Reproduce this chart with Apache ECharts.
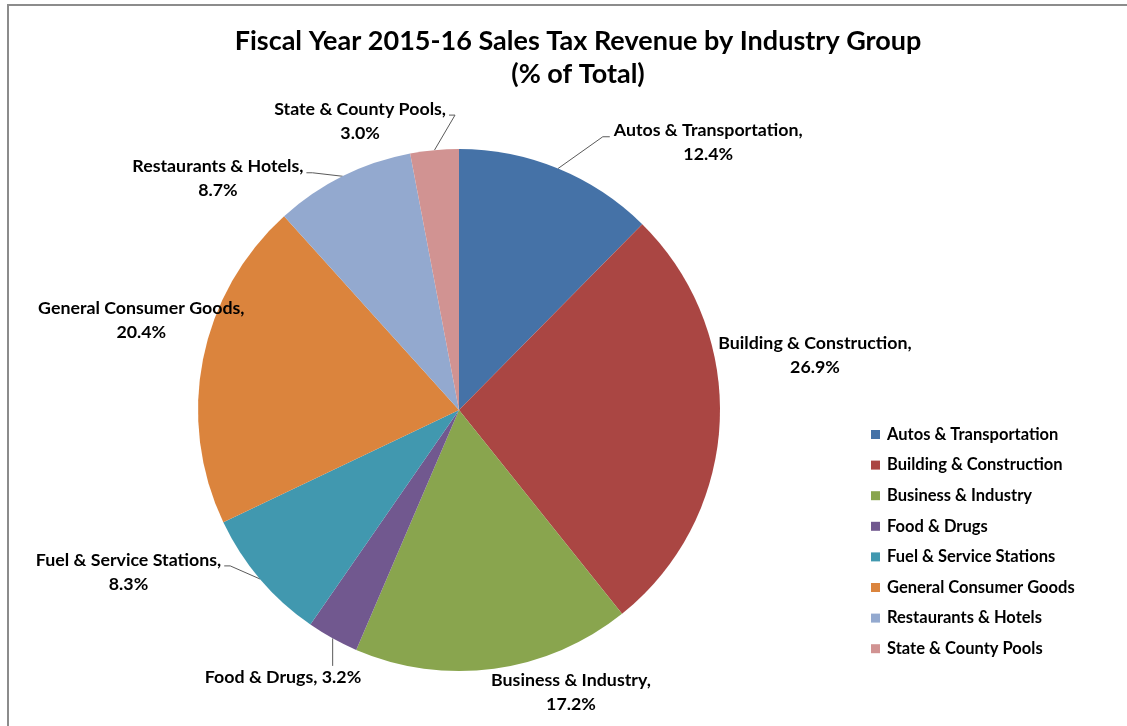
<!DOCTYPE html>
<html>
<head>
<meta charset="utf-8">
<script src="https://cdn.jsdelivr.net/npm/echarts@6/dist/echarts.min.js"></script>
<style>
  html, body { margin: 0; padding: 0; background: #fff; }
  #chart { width: 1127px; height: 726px; }
</style>
</head>
<body>
<div id="chart"></div>
<script>
// Industry groups and their share of FY 2015-16 sales tax revenue (%)
const categories = [
  'Autos & Transportation',
  'Building & Construction',
  'Business & Industry',
  'Food & Drugs',
  'Fuel & Service Stations',
  'General Consumer Goods',
  'Restaurants & Hotels',
  'State & County Pools'
];
const shares = [12.4, 26.9, 17.2, 3.2, 8.3, 20.4, 8.7, 3.0];
const colors = ['#4572A7', '#AA4643', '#89A54E', '#71588F', '#4198AF', '#DB843D', '#93A9CF', '#D19392'];

// Label placement around the pie: bearing (deg clockwise from 12 o'clock)
// and distance from the centre as a multiple of the radius.
const labelBearing = [43.0, 81.2, 158.4, 213.4, 243.9, 285.8, 313.8, 341.1];
const labelDist = [1.40, 1.38, 1.165, 1.225, 1.41, 1.265, 1.28, 1.17];
// Which side of the label its leader line attaches to ('' = no leader line)
const leaderSide = ['left', '', '', 'top', 'right', '', 'right', 'right'];
const singleLine = [false, false, false, true, false, false, false, false];

const FONT = 'Lato, "Open Sans", sans-serif';
const LINE_H = 24;
const chart = echarts.init(document.getElementById('chart'), null, { renderer: 'canvas' });

const CX = 459, CY = 410, R = 261;

// mid-angle of each slice, clockwise from 12 o'clock
const total = shares.reduce((s, v) => s + v, 0);
const midBearing = [];
shares.reduce((acc, v) => { midBearing.push((acc + v / 2) / total * 360); return acc + v; }, 0);

function polar(bearingDeg, dist) {
  const a = bearingDeg * Math.PI / 180;
  return [CX + dist * Math.sin(a), CY - dist * Math.cos(a)];
}

const data = categories.map((name, i) => ({
  name,
  value: shares[i],
  itemStyle: { color: colors[i] },
  labelLine: { show: leaderSide[i] !== '' }
}));

chart.setOption({
  animation: false,
  backgroundColor: '#fff',
  title: {
    text: 'Fiscal Year 2015-16 Sales Tax Revenue by Industry Group\n(% of Total)',
    left: 573,
    textAlign: 'center',
    top: 20,
    textStyle: {
      fontFamily: FONT,
      fontSize: 27,
      fontWeight: 'bold',
      color: '#000',
      lineHeight: 33
    }
  },
  legend: {
    orient: 'vertical',
    left: 866,
    top: 421,
    itemWidth: 9,
    itemHeight: 9,
    itemGap: 13.6,
    icon: 'rect',
    textStyle: {
      fontFamily: FONT,
      fontSize: 16.5,
      fontWeight: 'bold',
      color: '#000',
      lineHeight: 17,
      padding: [0, 0, 0, 2]
    },
    data: categories
  },
  graphic: [{
    type: 'polyline',
    shape: { points: [[8, 740], [8, 5], [1140, 5]] },
    style: { stroke: '#8c8c8c', lineWidth: 2, fill: null },
    silent: true
  }],
  series: [{
    type: 'pie',
    center: [CX, CY],
    radius: [0, R],
    startAngle: 90,
    clockwise: true,
    data,
    label: {
      show: true,
      position: 'outside',
      overflow: 'none',
      edgeDistance: 0,
      formatter: p => singleLine[p.dataIndex]
        ? '{t|' + p.name + ', ' + p.value.toFixed(1) + '%}'
        : '{t|' + p.name + ',}\n{t|' + p.value.toFixed(1) + '%}',
      rich: {
        t: {
          fontFamily: FONT,
          fontSize: 17.8,
          fontWeight: 'bold',
          color: '#000',
          lineHeight: LINE_H,
          align: 'center'
        }
      }
    },
    labelLine: {
      show: true,
      length: 20,
      length2: 8,
      lineStyle: { color: '#5a5a5a', width: 1 }
    },
    labelLayout: function (p) {
      const i = p.dataIndex;
      const [x, y] = polar(labelBearing[i], labelDist[i] * R);
      const out = { x, y, align: 'center', verticalAlign: 'middle' };
      const side = leaderSide[i];
      if (side) {
        const w = p.labelRect.width, h = p.labelRect.height;
        const left = x - w / 2, right = x + w / 2, top = y - h / 2;
        const start = polar(midBearing[i], R);
        const lineY = top + LINE_H / 2 + 3;
        if (side === 'left') {
          const end = [left - 4, lineY];
          out.labelLinePoints = [start, [end[0] - 7, end[1]], end];
        } else if (side === 'right') {
          const end = [right + 3, lineY];
          out.labelLinePoints = [start, [end[0] + 6, end[1]], end];
        } else {
          out.labelLinePoints = [start, [start[0], top - 2]];
        }
      }
      return out;
    }
  }]
});
</script>
</body>
</html>
